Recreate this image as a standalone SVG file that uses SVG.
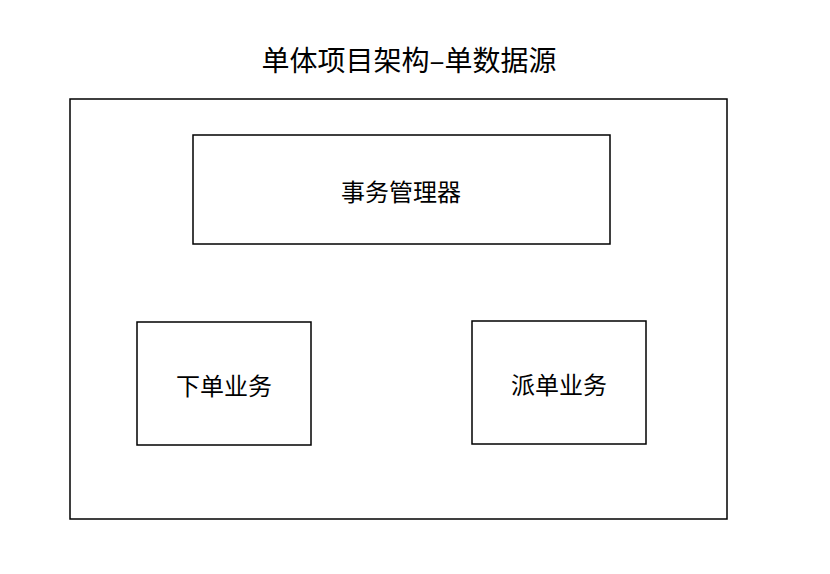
<svg xmlns="http://www.w3.org/2000/svg" width="830" height="574" viewBox="0 0 830 574">
<style>
rect{fill:#fff;stroke:#000;stroke-width:1.5}
text{font-family:"Noto Sans CJK SC","Noto Sans",sans-serif;fill:#000;text-anchor:middle;dominant-baseline:central}
.t{font-size:24px}
</style>
<rect x="0" y="0" width="830" height="574" style="stroke:none"/>
<text x="409" y="59" style="font-size:28px">单体项目架构–单数据源</text>
<g id="outer"><rect x="70" y="99" width="657" height="420"/></g>
<g id="tm"><rect x="193" y="135" width="417" height="109"/><text class="t" x="401" y="190">事务管理器</text></g>
<g id="order"><rect x="137" y="322" width="174" height="123"/><text class="t" x="224" y="384">下单业务</text></g>
<g id="dispatch"><rect x="472" y="321" width="174" height="123"/><text class="t" x="559" y="383">派单业务</text></g>
<g id="connectors"></g>
</svg>
